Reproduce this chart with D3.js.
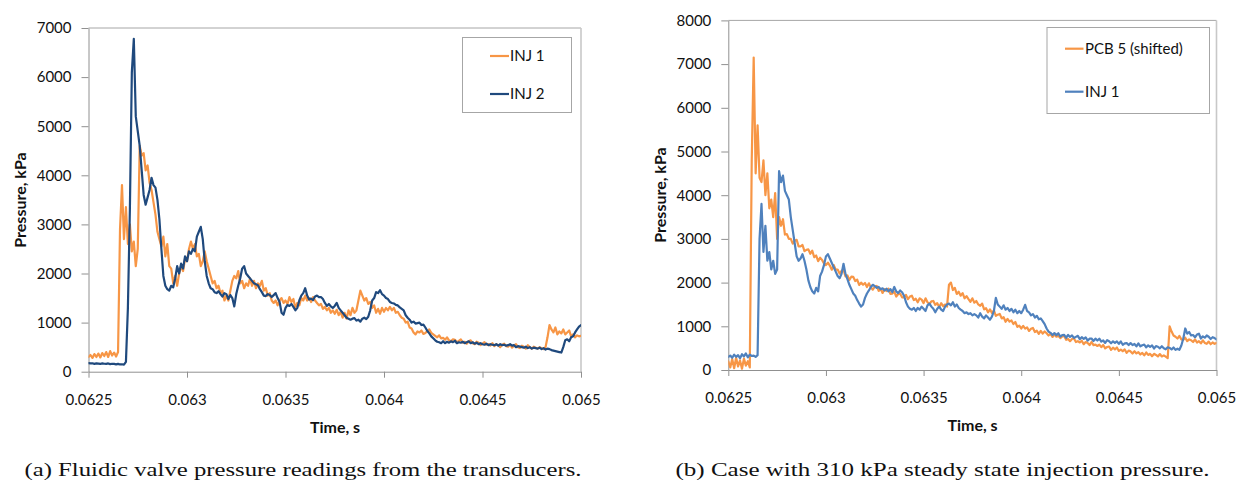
<!DOCTYPE html>
<html>
<head>
<meta charset="utf-8">
<script src="https://cdn.jsdelivr.net/npm/d3@7"></script>
<style>
  html, body { margin: 0; padding: 0; background: #fff; }
  svg { display: block; }
</style>
</head>
<body>
<svg id="fig" width="1239" height="480"></svg>
<script>
// ---- Data -----------------------------------------------------------------
// Transducer records start at t = 0.0625 s, sampled every 10 microseconds.
const sampleStart = 0.0625;
const sampleStep = 0.00001;

const xTicks = [0.0625, 0.063, 0.0635, 0.064, 0.0645, 0.065];
const xTickLabels = ["0.0625", "0.063", "0.0635", "0.064", "0.0645", "0.065"];
const yTicksA = [0, 1000, 2000, 3000, 4000, 5000, 6000, 7000];
const yTicksB = [0, 1000, 2000, 3000, 4000, 5000, 6000, 7000, 8000];

const seriesNamesA = ["INJ 1", "INJ 2"];
const seriesNamesB = ["PCB 5 (shifted)", "INJ 1"];

const captionA = "(a) Fluidic valve pressure readings from the transducers.";
const captionB = "(b) Case with 310 kPa steady state injection pressure.";
const axisTitleX = "Time, s";
const axisTitleY = "Pressure, kPa";

// (a) INJ 1, kPa
const injA1 = [
  300,340,280,360,300,370,290,380,320,400,300,420,330,390,310,400,
  2900,3800,2700,3350,2600,3000,2450,2650,2150,2500,
  4600,4400,4450,4100,4200,3850,3700,3450,3200,2850,2700,2550,2750,2350,2600,2150,2100,1800,1950,1750,
  2000,2150,2050,2300,2250,2500,2650,2500,2600,2350,2400,2150,2250,2450,2250,2100,1950,1800,1850,1700,
  1750,1600,1650,1450,1550,1450,1650,1850,1950,1900,2050,1800,1850,1700,1800,1750,1900,1750,1850,1700,
  1800,1750,1850,1650,1700,1550,1600,1450,1400,1450,1350,1450,1500,1400,1450,1380,1520,1420,1480,1300,
  1400,1350,1500,1450,1550,1450,1500,1420,1520,1450,1400,1350,1380,1280,1320,1250,1300,1200,1250,1180,
  1260,1150,1220,1100,1200,1080,1250,1150,1300,1200,1250,1450,1650,1550,1450,1500,1380,1420,1300,1350,
  1200,1280,1180,1300,1220,1300,1250,1320,1250,1300,1200,1220,1150,1100,1080,1000,1020,900,880,800,
  760,820,800,840,770,790,830,860,790,760,730,700,740,680,690,650,700,640,620,660,
  650,600,630,660,590,610,570,620,640,580,560,610,590,540,570,600,550,560,530,580,
  520,560,540,500,550,570,520,510,550,490,530,560,500,480,530,510,470,540,500,470,
  510,490,470,500,480,460,500,700,950,860,800,900,760,820,780,860,760,800,840,720,
  760,700,740,720,730
];

// (a) INJ 2, kPa
const injA2 = [
  175,168,172,160,170,165,158,170,162,160,168,155,162,158,150,160,148,152,145,
  200,1300,3300,6100,6780,5200,4900,
  4600,4100,3600,3400,3550,3700,3950,3800,3750,3500,3100,2500,1950,1750,1680,1650,1750,1720,1900,2150,
  2000,2200,2100,2350,2250,2450,2400,2500,2450,2750,2850,2950,2700,2250,1950,1800,1700,1680,1620,1600,
  1640,1580,1530,1600,1580,1480,1560,1500,1330,1580,1750,1900,2100,2150,2000,1950,1900,1850,1800,1780,
  1760,1680,1620,1550,1540,1580,1560,1520,1560,1600,1500,1420,1200,1160,1300,1360,1340,1380,1320,1250,
  1300,1450,1550,1600,1700,1550,1470,1490,1460,1530,1550,1520,1520,1480,1400,1340,1380,1330,1300,1340,
  1400,1300,1250,1200,1150,1100,1080,1060,1080,1090,1040,1060,1020,1080,1100,1070,1120,1250,1450,1500,
  1620,1600,1660,1580,1550,1500,1480,1420,1400,1390,1360,1350,1310,1280,1250,1150,1100,1060,1000,1020,
  980,990,1000,950,960,900,830,780,720,680,640,610,600,580,620,580,610,590,620,600,
  630,580,600,590,610,580,600,620,580,600,570,590,560,580,560,550,570,540,560,550,
  540,560,530,560,540,550,530,540,560,530,540,500,520,510,500,490,510,480,500,470,
  490,480,470,490,460,480,450,470,460,440,430,420,410,400,390,500,640,660,620,700,
  720,800,860,920,950
];

// (b) PCB 5 (shifted), kPa
const pcbB5 = [
  200,60,250,40,280,80,220,30,260,100,200,60,
  4800,7150,4500,5600,4400,4300,4800,4000,4500,3700,3900,3500,4050,3000,3500,3300,3450,3100,
  3110,3000,3000,2890,2960,2980,2830,2830,2860,2720,2750,2760,2660,2730,2580,2620,2490,2570,2520,2440,
  2400,2455,2390,2295,2400,2295,2300,2205,2270,2295,2140,2165,2060,2135,2130,2035,2070,1945,2000,1950,
  1990,1897,1984,1891,1838,1905,1922,1809,1856,1763,1850,1807,1864,1741,1748,1795,1682,1739,1746,1663,
  1660,1720,1620,1680,1700,1600,1630,1550,1640,1610,1530,1640,1550,1510,1570,1580,1490,1530,1440,1530,
  1460,1500,1450,
  1950,2000,1830,1880,1740,1790,1700,1760,1640,1690,1620,1560,1640,1540,1580,1500,1470,
  1520,1387,1414,1321,1388,1305,1362,1239,1266,1283,1180,1207,1104,1171,1108,1135,1052,1099,986,1013,
  950,1008,947,975,894,942,961,869,898,826,895,833,882,840,789,827,756,814,763,781,
  730,770,780,690,710,660,710,720,640,660,630,670,590,640,620,570,640,570,580,550,
  580,522,573,495,526,538,460,511,473,514,436,468,429,471,392,444,426,377,429,380,
  410,355,390,335,400,345,370,315,370,345,310,365,310,335,305,270,
  1000,880,790,760,720,780,700,690,740,660,700,680,640,700,630,660,610,680,620,600,650,590,630,600,620
];

// (b) INJ 1, kPa
const injB1 = [
  300,330,280,350,300,340,270,360,310,380,290,350,320,330,300,340,
  3000,3800,2700,3300,2500,2700,2300,2500,2200,2300,4550,4300,4450,4100,4000,3900,3500,3200,2900,2600,
  2500,2550,2650,2500,2300,2050,1900,1800,1750,1880,1800,2150,2250,2400,2600,2650,2550,2450,2350,2250,
  2150,2100,2200,2430,2200,2080,1950,1850,1750,1700,1600,1520,1450,1500,1650,1750,1820,1900,1950,1920,
  1880,1900,1850,1870,1820,1860,1800,1850,1780,1900,1800,1760,1820,1780,1700,1550,1450,1400,1380,1420,
  1350,1420,1380,1450,1400,1350,1480,1520,1450,1400,1320,1400,1450,1380,1350,1450,1500,1520,1480,1550,
  1450,1500,1420,1380,1350,1300,1320,1280,1300,1250,1280,1250,1200,1300,1220,1180,1250,1200,1150,1220,
  1350,1650,1500,1450,1400,1480,1380,1420,1350,1400,1320,1380,1300,1350,1300,1380,1490,1350,1320,1250,
  1280,1200,1240,1160,1180,1120,1050,950,880,850,
  800,844,798,842,766,800,804,738,802,756,790,734,758,782,706,750,714,748,672,716,
  720,664,718,673,717,651,675,619,684,658,612,656,620,655,599,653,577,611,616,570,
  615,570,596,541,607,542,568,583,519,564,530,565,491,546,532,497,543,498,474,519,505,470,516,461,487,462,
  560,720,950,830,870,790,800,750,810,830,720,770,740,790,760,710,750,730,700
];

// ---- Styling ----------------------------------------------------------------
const FONT = "Lato, 'Open Sans', 'Liberation Sans', sans-serif";
const SERIF = "'Liberation Serif', 'DejaVu Serif', serif";
const ORANGE = "#f79646";

const panels = [
  {
    id: "a",
    left: 88.5, right: 581, top: 28, bottom: 371.7,
    yMax: 7000, yTicks: yTicksA,
    series: [
      { name: seriesNamesA[0], values: injA1, color: ORANGE },
      { name: seriesNamesA[1], values: injA2, color: "#1f497d" }
    ],
    legend: { x0: 462.5, y0: 37.5, x1: 571.5, y1: 112.5, lineX0: 490, lineX1: 509, textX: 510, rows: [56, 94] },
    yTitle: { x: 25.5, y: 200 },
    xTitle: { x: 335, y: 433 },
    xLabelBaseline: 405,
    caption: { text: captionA, x: 24.5, y: 476, width: 557 }
  },
  {
    id: "b",
    left: 728.3, right: 1216.5, top: 20.4, bottom: 370,
    yMax: 8000, yTicks: yTicksB,
    series: [
      { name: seriesNamesB[0], values: pcbB5, color: ORANGE },
      { name: seriesNamesB[1], values: injB1, color: "#4f81bd" }
    ],
    legend: { x0: 1047, y0: 27.5, x1: 1209.5, y1: 113.5, lineX0: 1065, lineX1: 1083.5, textX: 1085, rows: [48.7, 91.7] },
    yTitle: { x: 665.5, y: 195 },
    xTitle: { x: 972.5, y: 431 },
    xLabelBaseline: 403.3,
    caption: { text: captionB, x: 675.5, y: 476, width: 534 }
  }
];

const svg = d3.select("#fig");

panels.forEach(p => {
  const g = svg.append("g").attr("class", "panel-" + p.id);

  const x = d3.scaleLinear().domain([xTicks[0], xTicks[xTicks.length - 1]]).range([p.left, p.right]);
  const y = d3.scaleLinear().domain([0, p.yMax]).range([p.bottom, p.top]);

  // plot-area border (top and right edges)
  g.append("line")
    .attr("x1", p.left).attr("x2", p.right)
    .attr("y1", p.top).attr("y2", p.top)
    .attr("stroke", "#a6a6a6").attr("stroke-width", 1);
  g.append("line")
    .attr("x1", p.right).attr("x2", p.right)
    .attr("y1", p.top).attr("y2", p.bottom)
    .attr("stroke", "#c8c8c8").attr("stroke-width", 1.6);

  // y axis
  const yAxis = g.append("g")
    .attr("transform", `translate(${p.left},0)`)
    .call(d3.axisLeft(y).tickValues(p.yTicks).tickFormat(d3.format("d")).tickSize(7).tickPadding(10).tickSizeOuter(0));
  yAxis.select(".domain").attr("stroke", "#909090");
  yAxis.selectAll(".tick line").attr("stroke", "#909090");
  yAxis.selectAll(".tick text")
    .attr("font-family", FONT).attr("font-size", 15).attr("fill", "#111");

  // x axis
  const xAxis = g.append("g")
    .attr("transform", `translate(0,${p.bottom})`)
    .call(d3.axisBottom(x).tickValues(xTicks).tickFormat((d, i) => xTickLabels[i]).tickSize(6).tickSizeOuter(0));
  xAxis.select(".domain").attr("stroke", "#909090");
  xAxis.selectAll(".tick line").attr("stroke", "#909090");
  xAxis.selectAll(".tick text")
    .attr("font-family", FONT).attr("font-size", 15).attr("fill", "#111")
    .attr("y", p.xLabelBaseline - p.bottom).attr("dy", 0);

  // traces
  const clipId = "clip-" + p.id;
  g.append("clipPath").attr("id", clipId)
    .append("rect")
    .attr("x", p.left).attr("y", p.top - 4)
    .attr("width", p.right - p.left).attr("height", p.bottom - p.top + 4);

  const line = d3.line()
    .x((d, i) => x(sampleStart + i * sampleStep))
    .y(d => y(d));

  const traces = g.append("g").attr("clip-path", `url(#${clipId})`);
  p.series.forEach(s => {
    traces.append("path")
      .datum(s.values)
      .attr("d", line)
      .attr("fill", "none")
      .attr("stroke", s.color)
      .attr("stroke-width", 2.2)
      .attr("stroke-linejoin", "round")
      .attr("stroke-linecap", "round");
  });

  // legend
  const L = p.legend;
  g.append("rect")
    .attr("x", L.x0).attr("y", L.y0)
    .attr("width", L.x1 - L.x0).attr("height", L.y1 - L.y0)
    .attr("fill", "#fff").attr("stroke", "#a6a6a6").attr("stroke-width", 1);
  p.series.forEach((s, i) => {
    g.append("line")
      .attr("x1", L.lineX0).attr("x2", L.lineX1)
      .attr("y1", L.rows[i]).attr("y2", L.rows[i])
      .attr("stroke", s.color).attr("stroke-width", 2.2);
    g.append("text")
      .attr("x", L.textX).attr("y", L.rows[i])
      .attr("dy", "0.36em")
      .attr("font-family", FONT).attr("font-size", 15).attr("fill", "#111")
      .text(s.name);
  });

  // axis titles
  g.append("text")
    .attr("transform", `translate(${p.yTitle.x},${p.yTitle.y}) rotate(-90)`)
    .attr("text-anchor", "middle")
    .attr("font-family", FONT).attr("font-size", 16).attr("font-weight", "bold").attr("fill", "#111")
    .text(axisTitleY);
  g.append("text")
    .attr("x", p.xTitle.x).attr("y", p.xTitle.y)
    .attr("text-anchor", "middle")
    .attr("font-family", FONT).attr("font-size", 16).attr("font-weight", "bold").attr("fill", "#111")
    .text(axisTitleX);

  // caption
  g.append("text")
    .attr("x", p.caption.x).attr("y", p.caption.y)
    .attr("font-family", SERIF).attr("font-size", 19).attr("fill", "#111")
    .attr("textLength", p.caption.width)
    .attr("lengthAdjust", "spacingAndGlyphs")
    .text(p.caption.text);
});
</script>
</body>
</html>
